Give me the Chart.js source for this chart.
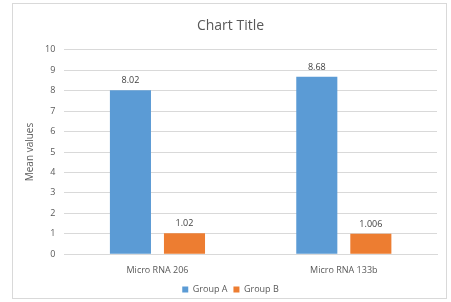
<!DOCTYPE html>
<html>
<head>
<meta charset="utf-8">
<script src="https://cdn.jsdelivr.net/npm/chart.js@4/dist/chart.umd.min.js"></script>
<style>
  html, body { margin: 0; padding: 0; background: #fff; }
  #frame {
    position: absolute; left: 12px; top: 3px;
    width: 433px; height: 294px;
    border: 1px solid #d9d9d9;
  }
  #chart { display: block; }
</style>
</head>
<body>
<div id="frame"><canvas id="chart" width="433" height="294"></canvas></div>
<script>
  const categories = ['Micro RNA 206', 'Micro RNA 133b'];
  const groupA = [8.02, 8.68];
  const groupB = [1.02, 1.006];
  const valueLabels = [['8.02', '8.68'], ['1.02', '1.006']];
  const yTicks = [0, 1, 2, 3, 4, 5, 6, 7, 8, 9, 10];

  const textColor = '#595959';
  const fontFamily = "'Open Sans', 'Liberation Sans', sans-serif";

  // draw the value above each bar
  const valueLabelPlugin = {
    id: 'valueLabels',
    afterDatasetsDraw(chart) {
      const ctx = chart.ctx;
      ctx.save();
      ctx.font = '9px ' + fontFamily;
      ctx.fillStyle = '#404040';
      ctx.textAlign = 'center';
      ctx.textBaseline = 'bottom';
      chart.data.datasets.forEach((ds, i) => {
        chart.getDatasetMeta(i).data.forEach((bar, j) => {
          ctx.fillText(valueLabels[i][j], bar.x, bar.y - 5);
        });
      });
      ctx.restore();
    },
  };

  const ctx = document.getElementById('chart').getContext('2d');
  new Chart(ctx, {
    type: 'bar',
    data: {
      labels: categories,
      datasets: [
        {
          label: 'Group A',
          data: groupA,
          backgroundColor: '#5b9bd5',
          categoryPercentage: 0.58,
          barPercentage: 0.76,
        },
        {
          label: 'Group B',
          data: groupB,
          backgroundColor: '#ed7d31',
          categoryPercentage: 0.58,
          barPercentage: 0.76,
        },
      ],
    },
    options: {
      responsive: false,
      animation: false,
      layout: { padding: { top: 8, right: 9, left: 11, bottom: -6 } },
      plugins: {
        title: {
          display: true,
          text: 'Chart Title',
          color: textColor,
          font: { family: fontFamily, size: 14, weight: 'normal' },
          padding: { top: 6, bottom: 15 },
        },
        legend: {
          position: 'bottom',
          labels: {
            color: textColor,
            font: { family: fontFamily, size: 9 },
            boxWidth: 6,
            boxHeight: 6,
            padding: 6,
          },
        },
        tooltip: { enabled: false },
      },
      scales: {
        x: {
          grid: { display: false },
          border: { color: '#d9d9d9' },
          ticks: { color: textColor, font: { family: fontFamily, size: 9 }, padding: 3 },
        },
        y: {
          min: 0,
          max: 10,
          afterBuildTicks(axis) {
            axis.ticks = yTicks.map((v) => ({ value: v }));
          },
          grid: { color: '#d9d9d9', drawTicks: false },
          border: { display: false },
          ticks: { color: textColor, font: { family: fontFamily, size: 9 }, padding: 9 },
          title: {
            display: true,
            text: 'Mean values',
            color: textColor,
            font: { family: fontFamily, size: 10 },
            padding: { top: 0, bottom: 0 },
          },
        },
      },
    },
    plugins: [valueLabelPlugin],
  });
</script>
</body>
</html>
